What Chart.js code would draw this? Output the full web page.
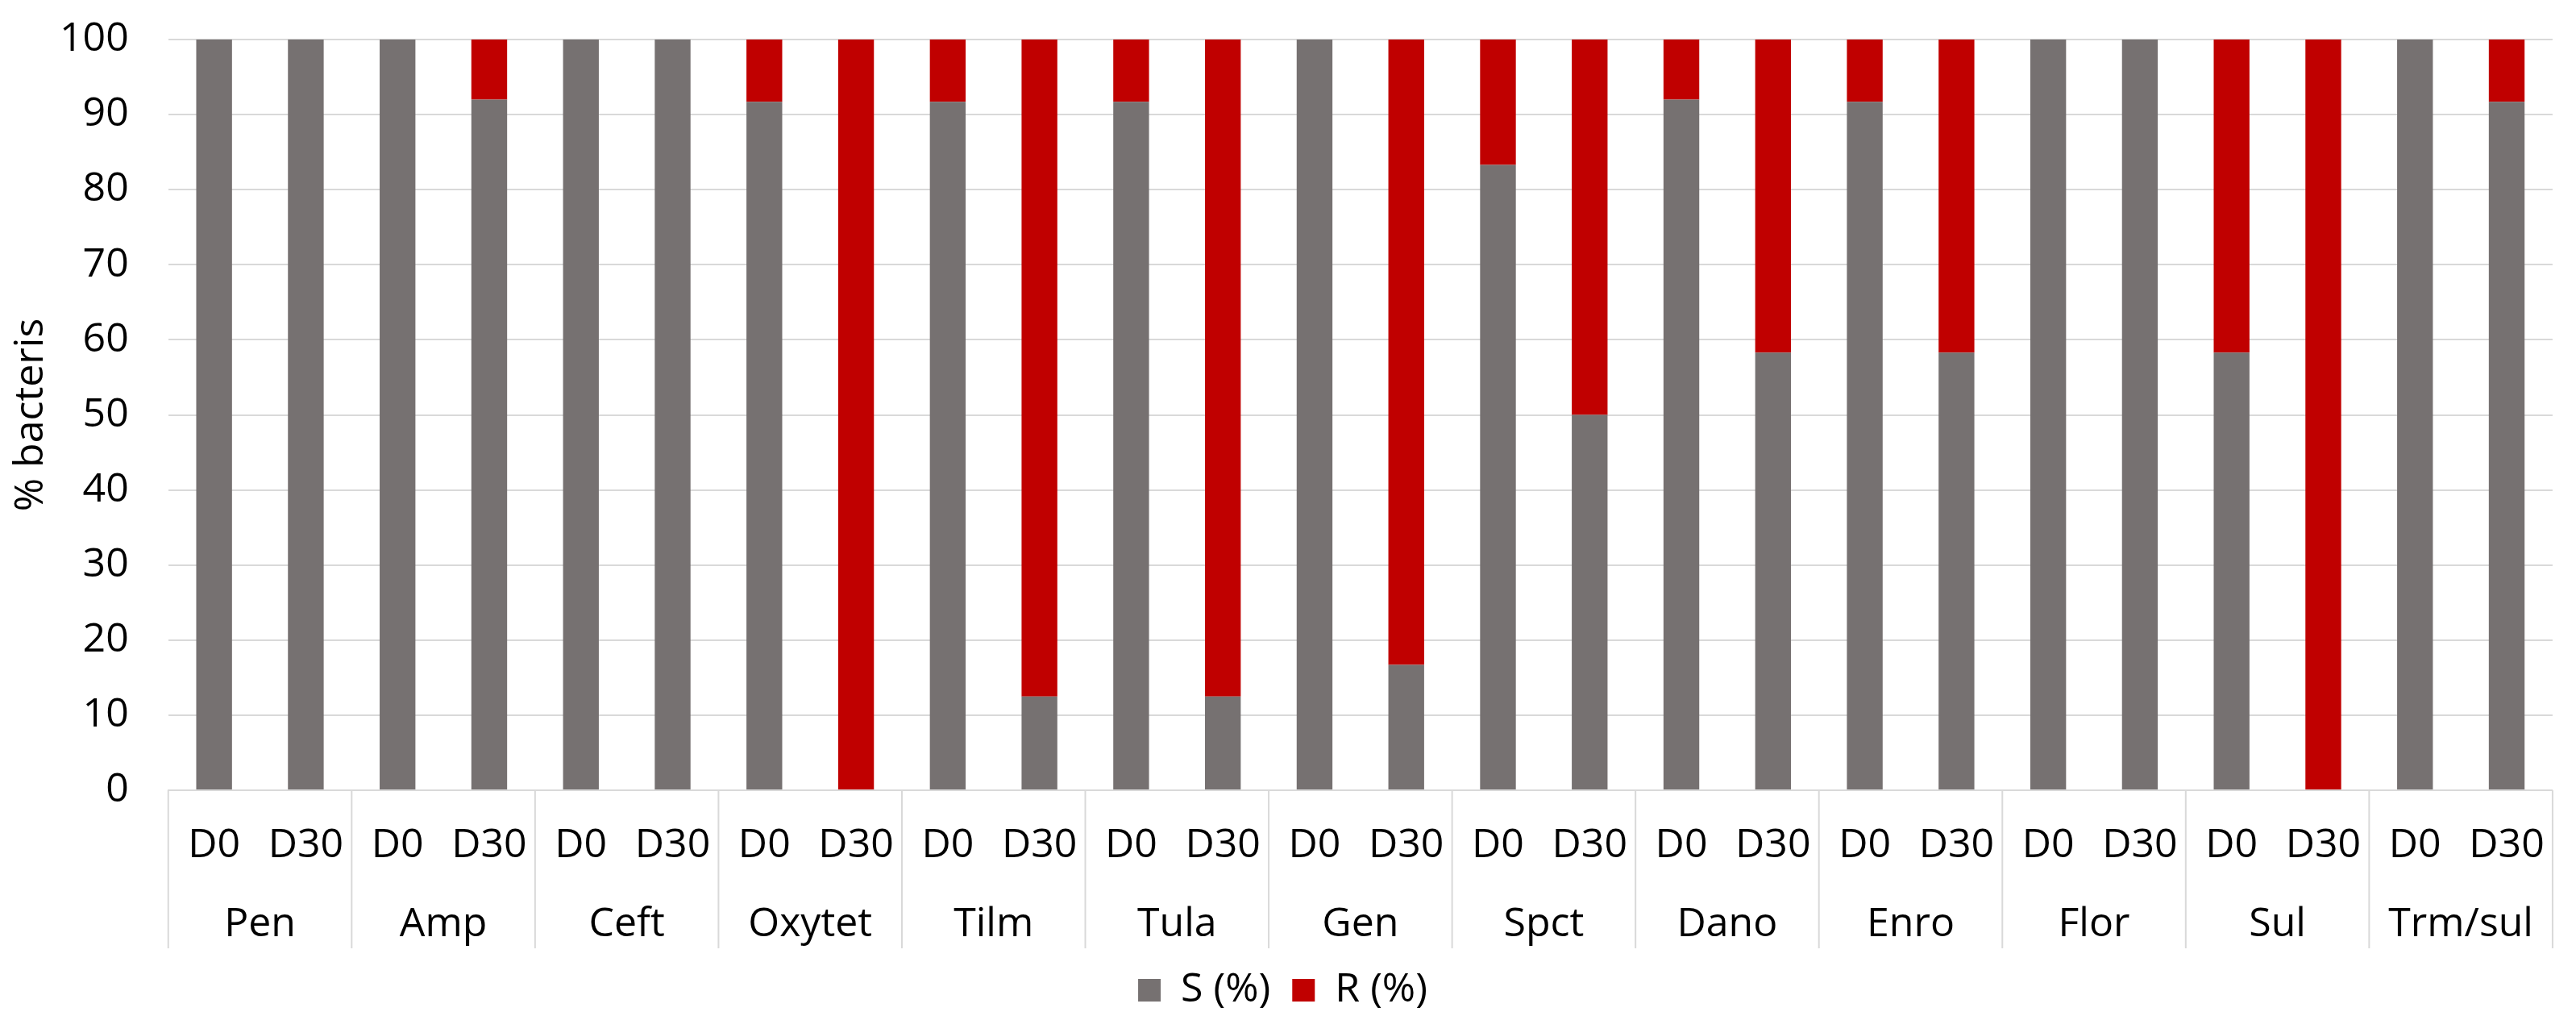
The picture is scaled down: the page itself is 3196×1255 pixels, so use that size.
<!DOCTYPE html>
<html>
<head>
<meta charset="utf-8">
<script src="https://cdn.jsdelivr.net/npm/chart.js@4/dist/chart.umd.min.js"></script>
<style>
  html, body { margin: 0; padding: 0; background: #fff; }
  #wrap { width: 3196px; height: 1255px; }
</style>
</head>
<body>
<div id="wrap"><canvas id="myChart"></canvas></div>
<script>
// antibiotics (outer axis level) and sampling days (inner level)
const groups = ['Pen', 'Amp', 'Ceft', 'Oxytet', 'Tilm', 'Tula', 'Gen', 'Spct', 'Dano', 'Enro', 'Flor', 'Sul', 'Trm/sul'];
const days = ['D0', 'D30'];

// one value per bar, in the order D0, D30 for each antibiotic
const sValues = [100, 100, 100, 92, 100, 100, 91.7, 0, 91.7, 12.5, 91.7, 12.5, 100, 16.7,
                 83.3, 50, 92, 58.3, 91.7, 58.3, 100, 100, 58.3, 0, 100, 91.7];
const rValues = [0, 0, 0, 8.1, 0, 0, 8.3, 100, 8.3, 87.5, 8.3, 87.5, 0, 83.3,
                 16.7, 50, 8.1, 41.7, 8.3, 41.7, 0, 0, 41.7, 100, 0, 8.3];

const yTicks = [0, 10, 20, 30, 40, 50, 60, 70, 80, 90, 100];

const barLabels = [];
groups.forEach(() => days.forEach(d => barLabels.push(d)));

const font = { family: "'Open Sans', 'Noto Sans', sans-serif", size: 50, lineHeight: 1.2 };
const gridColor = '#d9d9d9';

// box lines between the antibiotic groups, spanning both label rows
const groupLines = {
    id: 'groupLines',
    afterDraw(chart) {
        const x = chart.scales.x, x2 = chart.scales.x2;
        const ctx = chart.ctx;
        ctx.save();
        ctx.strokeStyle = gridColor;
        ctx.lineWidth = 2;
        for (let k = 0; k <= groups.length; k++) {
            let px;
            if (k === 0) px = x.left;
            else if (k === groups.length) px = x.right;
            else px = (x.getPixelForValue(2 * k - 1) + x.getPixelForValue(2 * k)) / 2;
            ctx.beginPath();
            ctx.moveTo(px, x.top);
            ctx.lineTo(px, x2.bottom);
            ctx.stroke();
        }
        ctx.restore();
    }
};

const ctx = document.getElementById('myChart').getContext('2d');
new Chart(ctx, {
    type: 'bar',
    data: {
        labels: barLabels,
        datasets: [
            { label: 'S (%)', data: sValues, backgroundColor: '#767171', barPercentage: 0.39, categoryPercentage: 1 },
            { label: 'R (%)', data: rValues, backgroundColor: '#c00000', barPercentage: 0.39, categoryPercentage: 1 }
        ]
    },
    options: {
        responsive: true,
        maintainAspectRatio: false,
        animation: false,
        layout: { padding: { top: 49, right: 13, left: 0, bottom: -8 } },
        plugins: {
            legend: {
                position: 'bottom',
                labels: { font: font, color: '#000', boxWidth: 28, boxHeight: 28, padding: 27 }
            },
            tooltip: { enabled: false }
        },
        scales: {
            x: {
                stacked: true,
                grid: { display: false, drawTicks: false },
                border: { display: true, color: gridColor, width: 2 },
                ticks: { font: font, color: '#000', autoSkip: false, maxRotation: 0, padding: 39 }
            },
            x2: {
                type: 'category',
                labels: groups,
                position: 'bottom',
                offset: true,
                grid: { display: false, drawTicks: false },
                border: { display: false },
                ticks: { font: font, color: '#000', autoSkip: false, maxRotation: 0, padding: -1 }
            },
            y: {
                stacked: true,
                min: 0,
                max: 100,
                afterBuildTicks: axis => { axis.ticks = yTicks.map(v => ({ value: v })); },
                afterFit: axis => { axis.paddingTop = 0; axis.paddingBottom = 0; },
                grid: { color: gridColor, lineWidth: 2, drawTicks: false },
                border: { display: false },
                ticks: { font: font, color: '#000', padding: 49 },
                title: { display: true, text: '% bacteris', font: font, color: '#000', padding: { top: 9, bottom: -44 } }
            }
        }
    },
    plugins: [groupLines]
});
</script>
</body>
</html>
